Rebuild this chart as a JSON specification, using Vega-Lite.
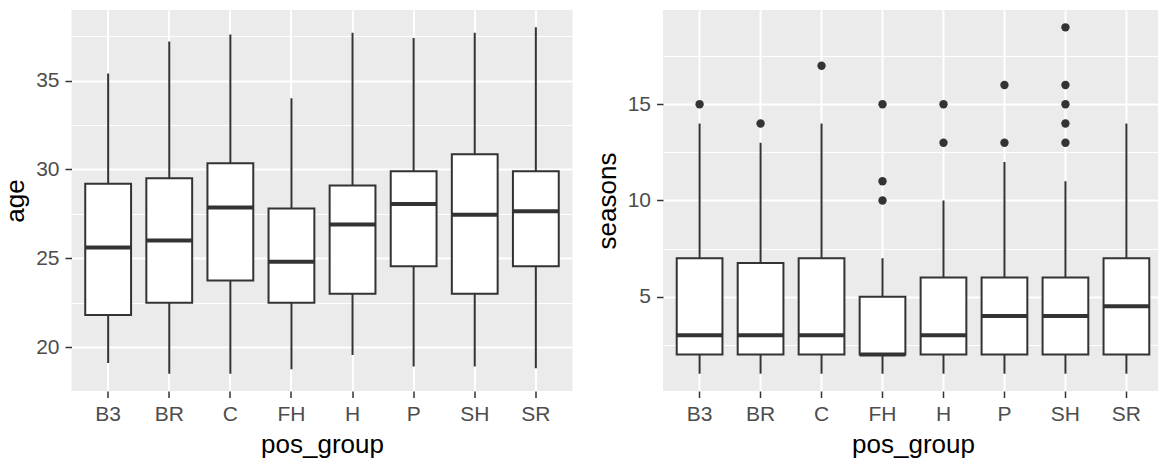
{
  "$schema": "https://vega.github.io/schema/vega-lite/v6.json",
  "padding": {"left": 2.5, "top": 10, "right": 0, "bottom": 0},
  "spacing": 21.5,
  "datasets": {
    "age_stats": [
      {"pos_group": "B3", "lower": 19.1, "q1": 21.8, "median": 25.6, "q3": 29.2, "upper": 35.4},
      {"pos_group": "BR", "lower": 18.5, "q1": 22.5, "median": 26.0, "q3": 29.5, "upper": 37.2},
      {"pos_group": "C", "lower": 18.5, "q1": 23.75, "median": 27.85, "q3": 30.35, "upper": 37.6},
      {"pos_group": "FH", "lower": 18.75, "q1": 22.5, "median": 24.8, "q3": 27.8, "upper": 34.0},
      {"pos_group": "H", "lower": 19.55, "q1": 23.0, "median": 26.9, "q3": 29.1, "upper": 37.7},
      {"pos_group": "P", "lower": 18.9, "q1": 24.55, "median": 28.05, "q3": 29.9, "upper": 37.4},
      {"pos_group": "SH", "lower": 18.9, "q1": 23.0, "median": 27.45, "q3": 30.85, "upper": 37.7},
      {"pos_group": "SR", "lower": 18.8, "q1": 24.55, "median": 27.65, "q3": 29.9, "upper": 38.0}
    ],
    "seasons_stats": [
      {"pos_group": "B3", "lower": 1, "q1": 2, "median": 3, "q3": 7, "upper": 14},
      {"pos_group": "BR", "lower": 1, "q1": 2, "median": 3, "q3": 6.75, "upper": 13},
      {"pos_group": "C", "lower": 1, "q1": 2, "median": 3, "q3": 7, "upper": 14},
      {"pos_group": "FH", "lower": 1, "q1": 2, "median": 2, "q3": 5, "upper": 7},
      {"pos_group": "H", "lower": 1, "q1": 2, "median": 3, "q3": 6, "upper": 10},
      {"pos_group": "P", "lower": 1, "q1": 2, "median": 4, "q3": 6, "upper": 12},
      {"pos_group": "SH", "lower": 1, "q1": 2, "median": 4, "q3": 6, "upper": 11},
      {"pos_group": "SR", "lower": 1, "q1": 2, "median": 4.5, "q3": 7, "upper": 14}
    ],
    "seasons_outliers": [
      {"pos_group": "B3", "seasons": 15},
      {"pos_group": "BR", "seasons": 14},
      {"pos_group": "C", "seasons": 17},
      {"pos_group": "FH", "seasons": 10},
      {"pos_group": "FH", "seasons": 11},
      {"pos_group": "FH", "seasons": 15},
      {"pos_group": "H", "seasons": 13},
      {"pos_group": "H", "seasons": 15},
      {"pos_group": "P", "seasons": 13},
      {"pos_group": "P", "seasons": 16},
      {"pos_group": "SH", "seasons": 13},
      {"pos_group": "SH", "seasons": 14},
      {"pos_group": "SH", "seasons": 15},
      {"pos_group": "SH", "seasons": 16},
      {"pos_group": "SH", "seasons": 19}
    ]
  },
  "config": {
    "view": {"fill": "#EBEBEB", "stroke": null},
    "axis": {
      "labelFont": "Liberation Sans",
      "labelFontSize": 21,
      "labelColor": "#4D4D4D",
      "titleFont": "Liberation Sans",
      "titleFontSize": 26,
      "titleFontWeight": "normal",
      "titleColor": "#000000",
      "tickColor": "#333333",
      "tickSize": 6.5,
      "tickWidth": 1.5,
      "domain": false,
      "gridColor": "#FFFFFF",
      "gridOpacity": 1,
      "gridWidth": 2,
      "labelOverlap": false
    },
    "axisX": {"labelAngle": 0, "labelPadding": 6, "titlePadding": 7},
    "axisY": {"labelPadding": 6, "titlePadding": 7}
  },
  "hconcat": [
    {
      "width": 501,
      "height": 381,
      "data": {"name": "age_stats"},
      "encoding": {
        "x": {
          "field": "pos_group",
          "type": "nominal",
          "title": "pos_group",
          "scale": {"type": "band", "paddingInner": 0, "paddingOuter": 0.1},
          "axis": {"grid": true, "bandPosition": 0.5}
        }
      },
      "layer": [
        {
          "mark": {"type": "rule", "color": "#333333", "strokeWidth": 2},
          "encoding": {
            "y": {
              "field": "lower",
              "type": "quantitative",
              "title": "age",
              "scale": {"domain": [17.525, 38.975], "nice": false, "zero": false},
              "axis": {
                "values": [20, 22.5, 25, 27.5, 30, 32.5, 35, 37.5],
                "labelExpr": "datum.value % 5 === 0 ? datum.label : ''",
                "gridWidth": {"condition": {"test": "datum.value % 5 !== 0", "value": 1}, "value": 2},
                "tickOpacity": {"condition": {"test": "datum.value % 5 !== 0", "value": 0}, "value": 1}
              }
            },
            "y2": {"field": "upper"}
          }
        },
        {
          "mark": {"type": "bar", "fill": "#FFFFFF", "stroke": "#333333", "strokeWidth": 2, "width": {"band": 0.75}},
          "encoding": {
            "y": {"field": "q1", "type": "quantitative"},
            "y2": {"field": "q3"}
          }
        },
        {
          "mark": {"type": "tick", "color": "#333333", "opacity": 1, "thickness": 4, "size": 45.75},
          "encoding": {
            "y": {"field": "median", "type": "quantitative"}
          }
        }
      ]
    },
    {
      "width": 500,
      "height": 381,
      "encoding": {
        "x": {
          "field": "pos_group",
          "type": "nominal",
          "title": "pos_group",
          "scale": {"type": "band", "paddingInner": 0, "paddingOuter": 0.1},
          "axis": {"grid": true, "bandPosition": 0.5}
        }
      },
      "layer": [
        {
          "data": {"name": "seasons_stats"},
          "mark": {"type": "rule", "color": "#333333", "strokeWidth": 2},
          "encoding": {
            "y": {
              "field": "lower",
              "type": "quantitative",
              "title": "seasons",
              "scale": {"domain": [0.1, 19.9], "nice": false, "zero": false},
              "axis": {
                "values": [2.5, 5, 7.5, 10, 12.5, 15, 17.5],
                "labelExpr": "datum.value % 5 === 0 ? datum.label : ''",
                "gridWidth": {"condition": {"test": "datum.value % 5 !== 0", "value": 1}, "value": 2},
                "tickOpacity": {"condition": {"test": "datum.value % 5 !== 0", "value": 0}, "value": 1}
              }
            },
            "y2": {"field": "upper"}
          }
        },
        {
          "data": {"name": "seasons_stats"},
          "mark": {"type": "bar", "fill": "#FFFFFF", "stroke": "#333333", "strokeWidth": 2, "width": {"band": 0.75}},
          "encoding": {
            "y": {"field": "q1", "type": "quantitative"},
            "y2": {"field": "q3"}
          }
        },
        {
          "data": {"name": "seasons_stats"},
          "mark": {"type": "tick", "color": "#333333", "opacity": 1, "thickness": 4, "size": 45.75},
          "encoding": {
            "y": {"field": "median", "type": "quantitative"}
          }
        },
        {
          "data": {"name": "seasons_outliers"},
          "mark": {"type": "circle", "color": "#333333", "opacity": 1, "size": 70},
          "encoding": {
            "y": {"field": "seasons", "type": "quantitative"}
          }
        }
      ]
    }
  ]
}
